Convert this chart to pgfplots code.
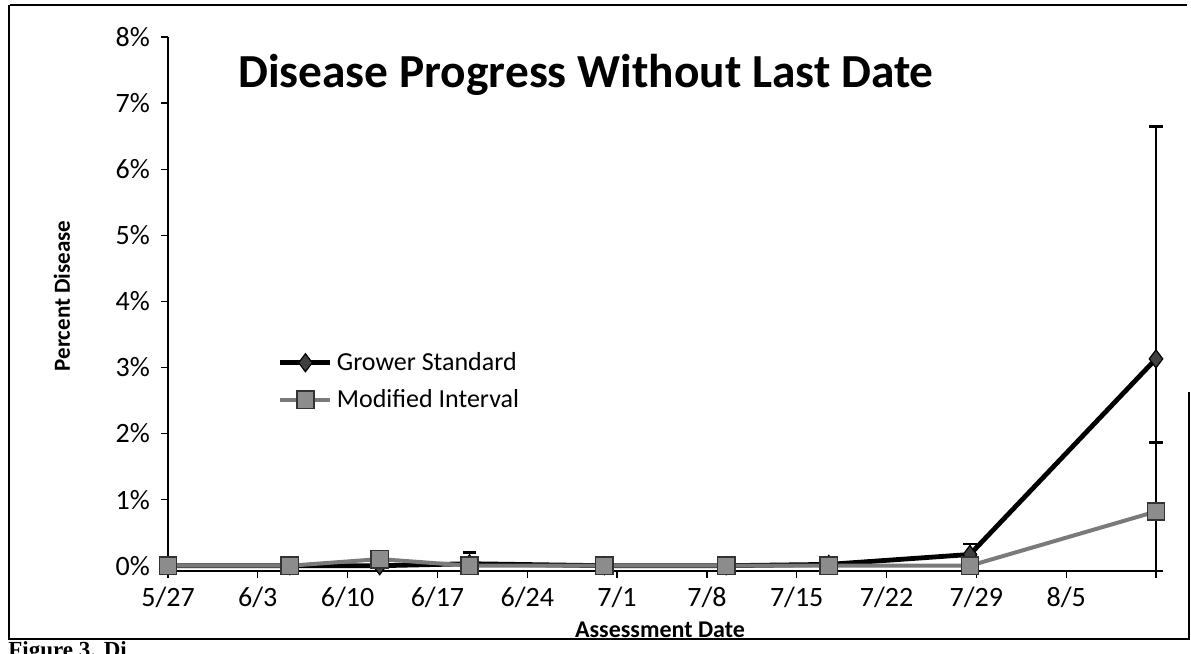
\documentclass[border=0pt]{standalone}
\usepackage{pgfplots}
\pgfplotsset{compat=1.18}
\usepackage{fontspec}
\setmainfont{Carlito}
\newfontfamily\serifbold{Liberation Serif}
\definecolor{modgray}{HTML}{7A7A7A}
\definecolor{modfill}{HTML}{8C8C8C}
\definecolor{growfill}{HTML}{404040}
\begin{document}
\begin{tikzpicture}[x=0.5pt,y=0.5pt]
\useasboundingbox (0,0) rectangle (1191,654);
% chart frame
\draw[line width=0.8pt] (10,654-5) -- (1187,654-5);
\draw[line width=0.8pt] (9,654-5) -- (9,654-639) -- (1190,654-639);
\draw[line width=0.8pt] (1189,654-392) -- (1189,654-639);
\begin{axis}[
  at={(84pt,41.5pt)}, anchor=south west,
  scale only axis, width=494pt, height=267pt,
  xmin=0, xmax=77, ymin=-0.08, ymax=8,
  axis lines=left, axis line style={-, line width=0.8pt},
  tick align=outside, major tick length=3.5pt,
  tick style={black, line width=0.6pt},
  xtick={0,7,...,77},
  xticklabels={5/27,6/3,6/10,6/17,6/24,7/1,7/8,7/15,7/22,7/29,8/5,{}},
  ytick={0,1,...,8},
  yticklabel={\pgfmathprintnumber{\tick}\%},
  /pgf/number format/assume math mode=true,
  ticklabel style={font=\fontsize{14}{16}\selectfont},
  yticklabel style={xshift=-2pt},
  xticklabel style={yshift=-1pt},
  clip=false,
  legend style={at={(0.111,0.418)}, anchor=north west, draw=none, fill=none,
    inner sep=0pt, row sep=4pt, font=\fontsize{13}{15}\selectfont,
    legend cell align=left},
  legend image code/.code={\draw[mark repeat=2,mark phase=2,#1] plot coordinates {(0pt,0pt) (12.5pt,0pt) (25pt,0pt)};},
]
\addplot[black, line width=2.4pt, mark=diamond*, mark size=4.5pt,
  mark options={fill=growfill, draw=black, line width=0.6pt, solid},
  error bars/.cd, y dir=both, y explicit,
  error bar style={black, line width=0.9pt},
  error mark options={black, line width=1.4pt, mark size=3.3pt, rotate=90}]
coordinates {
(0,0) += (0,0) -= (0,0)
(9.5,0) += (0,0) -= (0,0)
(16.5,0) += (0,0) -= (0,0)
(23.5,0.03) += (0,0.17) -= (0,0)
(34,0) += (0,0) -= (0,0)
(43.5,0) += (0,0) -= (0,0)
(51.5,0.02) += (0,0) -= (0,0)
(62.5,0.17) += (0,0.16) -= (0,0)
(77,3.13) += (0,3.52) -= (0,3.21)
};
\addlegendentry{Grower Standard}
\addplot[modgray, line width=2pt, mark=square*, mark size=4.3pt,
  mark options={fill=modfill, draw=black!80, line width=0.8pt, solid},
  error bars/.cd, y dir=both, y explicit,
  error bar style={black, line width=0.9pt},
  error mark options={black, line width=1.4pt, mark size=3.3pt, rotate=90}]
coordinates {
(0,0) += (0,0) -= (0,0)
(9.5,0) += (0,0) -= (0,0)
(16.5,0.1) += (0,0) -= (0,0)
(23.5,0) += (0,0) -= (0,0)
(34,0) += (0,0) -= (0,0)
(43.5,0) += (0,0) -= (0,0)
(51.5,0) += (0,0) -= (0,0)
(62.5,0) += (0,0) -= (0,0)
(77,0.82) += (0,1.04) -= (0,0.90)
};
\addlegendentry{Modified Interval}
\end{axis}
\node[anchor=base, font=\fontsize{23.7}{27}\bfseries\selectfont] at (586,654-88) {Disease Progress Without Last Date};
\node[rotate=90, font=\fontsize{11.5}{13}\bfseries\selectfont] at (62,654-296) {Percent Disease};
\node[font=\fontsize{12}{14}\bfseries\selectfont] at (660,654-630) {Assessment Date};
\node[anchor=base west, inner sep=0pt, font=\serifbold\bfseries\fontsize{11.5}{13}\selectfont] at (8,654-658) {Figure 3. Di};
\end{tikzpicture}
\end{document}
